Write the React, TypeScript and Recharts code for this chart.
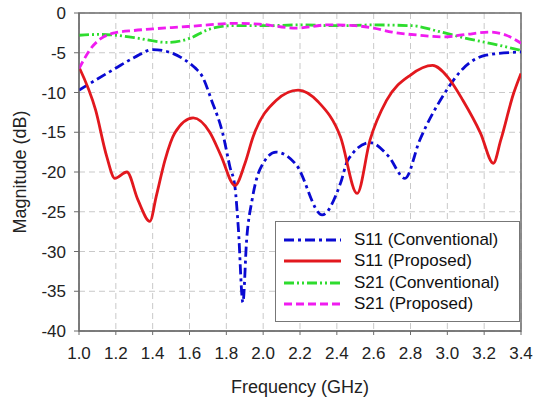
import React from 'react';
import { LineChart, Line, XAxis, YAxis, CartesianGrid, ReferenceArea } from 'recharts';

// frequency (GHz) / magnitude (dB)
const s11ConvFreq = [1.0, 1.1, 1.195, 1.3, 1.4, 1.5, 1.575, 1.63, 1.67, 1.72, 1.78, 1.82, 1.847, 1.865, 1.89, 1.91, 1.94, 1.98, 2.07, 2.18, 2.32, 2.42, 2.46, 2.58, 2.68, 2.77, 2.85, 2.98, 3.085, 3.21, 3.4];
const s11ConvMag = [-9.7, -8.3, -7.0, -5.6, -4.6, -5.0, -5.9, -6.9, -8.0, -11.0, -15.1, -19.4, -21.9, -27.0, -36.4, -28.6, -23.5, -19.8, -17.5, -19.1, -25.4, -21.4, -18.5, -16.3, -18.0, -20.8, -16.0, -10.3, -7.0, -5.3, -4.9];

const s11PropFreq = [1.0, 1.09, 1.15, 1.195, 1.26, 1.32, 1.385, 1.42, 1.467, 1.52, 1.62, 1.71, 1.77, 1.847, 1.9, 1.945, 2.07, 2.19, 2.3, 2.42, 2.51, 2.58, 2.67, 2.8, 2.92, 3.0, 3.085, 3.18, 3.25, 3.29, 3.36, 3.4];
const s11PropMag = [-6.8, -12.2, -18.0, -20.8, -20.0, -23.5, -26.2, -23.0, -18.5, -15.1, -13.2, -15.0, -17.9, -21.7, -19.0, -15.6, -11.0, -9.7, -11.2, -15.6, -22.7, -16.0, -11.0, -7.8, -6.6, -8.0, -11.0, -15.1, -18.9, -16.0, -10.1, -7.6];

const s21ConvFreq = [1.0, 1.1, 1.2, 1.3, 1.48, 1.6, 1.7, 1.82, 2.0, 2.2, 2.4, 2.6, 2.81, 2.95, 3.085, 3.27, 3.4];
const s21ConvMag = [-2.8, -2.7, -2.8, -3.1, -3.7, -3.2, -2.1, -1.6, -1.6, -1.5, -1.6, -1.5, -1.6, -2.3, -3.1, -4.0, -4.7];

const s21PropFreq = [1.0, 1.07, 1.12, 1.195, 1.3, 1.4, 1.59, 1.7, 1.84, 1.98, 2.18, 2.35, 2.5, 2.6, 2.7, 2.85, 2.98, 3.1, 3.23, 3.32, 3.4];
const s21PropMag = [-7.0, -4.3, -3.2, -2.5, -2.2, -2.0, -1.7, -1.5, -1.3, -1.4, -1.9, -1.5, -1.6, -1.9, -2.4, -2.8, -3.0, -2.7, -2.4, -2.8, -3.8];

const xTicks = [1.0, 1.2, 1.4, 1.6, 1.8, 2.0, 2.2, 2.4, 2.6, 2.8, 3.0, 3.2, 3.4];
const xMinorTicks = [1.0, 1.1, 1.2, 1.3, 1.4, 1.5, 1.6, 1.7, 1.8, 1.9, 2.0, 2.1, 2.2, 2.3, 2.4, 2.5, 2.6, 2.7, 2.8, 2.9, 3.0, 3.1, 3.2, 3.3, 3.4];
const yTicks = [0, -5, -10, -15, -20, -25, -30, -35, -40];

const toPoints = (fs: number[], vs: number[]) => fs.map((f, i) => ({ f, v: vs[i] }));

const series = [
  { name: 'S11 (Conventional)', data: toPoints(s11ConvFreq, s11ConvMag), color: '#0a0ad2', dash: '10 4 3 4' },
  { name: 'S11 (Proposed)', data: toPoints(s11PropFreq, s11PropMag), color: '#e2181e', dash: undefined },
  { name: 'S21 (Conventional)', data: toPoints(s21ConvFreq, s21ConvMag), color: '#2edc2e', dash: '10 3 2 3 2 3' },
  { name: 'S21 (Proposed)', data: toPoints(s21PropFreq, s21PropMag), color: '#f01cf0', dash: '8 4' },
];

const font = 'Arial, "Liberation Sans", sans-serif';
const axisColor = '#6b6b6b';

// legend drawn as an overlay box so it doesn't eat into the plot area
const LegendBox = () => (
  <div
    style={{
      position: 'absolute',
      left: 275,
      top: 221,
      width: 245,
      height: 101,
      boxSizing: 'border-box',
      border: '1.5px solid #777',
      background: '#fff',
      padding: '7px 0 0 8px',
      fontFamily: font,
      fontSize: 17,
      color: '#111',
    }}
  >
    {series.map((s) => (
      <div key={s.name} style={{ display: 'flex', alignItems: 'center', height: 21.5 }}>
        <svg width={57} height={10} style={{ marginRight: 13 }}>
          <line x1={0} y1={5} x2={57} y2={5} stroke={s.color} strokeWidth={2.8} strokeDasharray={s.dash} />
        </svg>
        <span>{s.name}</span>
      </div>
    ))}
  </div>
);

export default function App() {
  return (
    <div style={{ position: 'absolute', left: 0, top: 0, width: 534, height: 399, background: '#fff' }}>
      <LineChart width={534} height={399} margin={{ top: 13, right: 13, left: 0, bottom: 0 }}>
        <CartesianGrid stroke="#c9c9c9" strokeDasharray="6 4" vertical horizontal />
        {/* small inward ticks along the bottom and top edges */}
        <XAxis
          xAxisId="minorBottom"
          type="number"
          dataKey="f"
          domain={[1.0, 3.4]}
          ticks={xMinorTicks}
          height={0}
          mirror
          axisLine={false}
          stroke={axisColor}
          tickSize={3}
          tickFormatter={() => ''}
          allowDataOverflow
        />
        <XAxis
          type="number"
          dataKey="f"
          domain={[1.0, 3.4]}
          ticks={xTicks}
          tickFormatter={(v: number) => v.toFixed(1)}
          height={68}
          stroke={axisColor}
          tickSize={4}
          tickMargin={12}
          tick={{ fill: '#222', fontSize: 17, fontFamily: font }}
          label={{ value: 'Frequency (GHz)', position: 'insideBottom', offset: 6, fill: '#222', fontSize: 18, fontFamily: font }}
          allowDataOverflow
        />
        <XAxis
          xAxisId="top"
          orientation="top"
          type="number"
          dataKey="f"
          domain={[1.0, 3.4]}
          ticks={xMinorTicks}
          height={0}
          mirror
          axisLine={false}
          stroke={axisColor}
          tickSize={3}
          tickFormatter={() => ''}
          allowDataOverflow
        />
        <YAxis
          type="number"
          domain={[-40, 0]}
          ticks={yTicks}
          width={79}
          stroke={axisColor}
          tickSize={5}
          tickMargin={8}
          tick={{ fill: '#222', fontSize: 17, fontFamily: font }}
          label={{ value: 'Magnitude (dB)', angle: -90, position: 'insideLeft', offset: 20, fill: '#222', fontSize: 18, fontFamily: font, style: { textAnchor: 'middle' } }}
          allowDataOverflow
        />
        <ReferenceArea x1={1.0} x2={3.4} y1={-40} y2={0} fill="none" stroke={axisColor} strokeWidth={1.5} ifOverflow="visible" />
        {series.map((s) => (
          <Line
            key={s.name}
            data={s.data}
            dataKey="v"
            name={s.name}
            type="monotone"
            stroke={s.color}
            strokeWidth={2.8}
            strokeDasharray={s.dash}
            dot={false}
            activeDot={false}
            isAnimationActive={false}
          />
        ))}
      </LineChart>
      <LegendBox />
    </div>
  );
}
